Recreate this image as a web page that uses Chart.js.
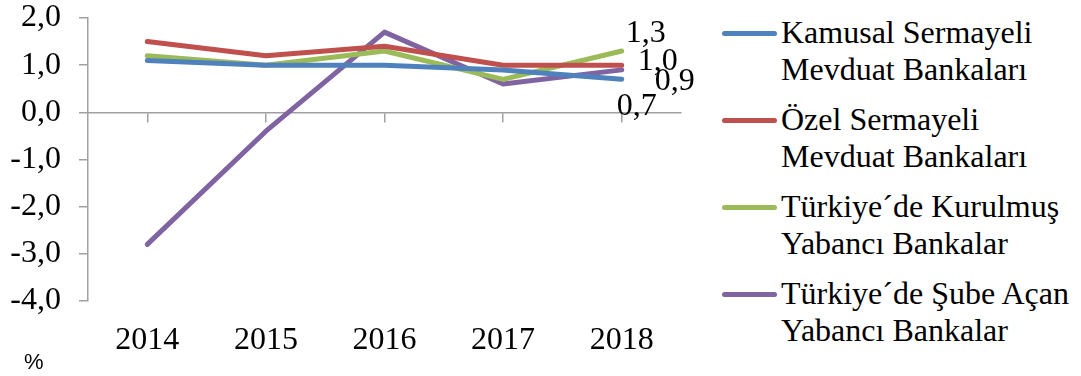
<!DOCTYPE html>
<html>
<head>
<meta charset="utf-8">
<script src="https://cdn.jsdelivr.net/npm/chart.js@4"></script>
<style>
    body { margin: 0; background: #fff; width: 1081px; height: 376px; overflow: hidden; position: relative; font-family: "Liberation Serif", "Times New Roman", serif; }
    #wrap { position: absolute; left: 0; top: 0; width: 720px; height: 376px; }
    #legend { position: absolute; left: 722px; top: 14px; }
    .item { display: flex; align-items: flex-start; margin-bottom: 13px; }
    .mark { width: 55px; height: 5px; border-radius: 3px; margin-top: 17px; margin-right: 4px; flex: none; }
    .txt { font-size: 32px; line-height: 37px; color: #000; white-space: nowrap; }
    #pct { position: absolute; left: 24px; top: 351px; font-family: "Liberation Sans", Arial, sans-serif; font-size: 22px; line-height: 22px; }
</style>
</head>
<body>
<div id="wrap"><canvas id="chart"></canvas></div>
<div id="legend"></div>
<div id="pct">%</div>

<script>
// ✅ DATA
const years = ['2014', '2015', '2016', '2017', '2018'];
const seriesNames = [
    ['Kamusal Sermayeli', 'Mevduat Bankaları'],
    ['Özel Sermayeli', 'Mevduat Bankaları'],
    ['Türkiye´de Kurulmuş', 'Yabancı Bankalar'],
    ['Türkiye´de Şube Açan', 'Yabancı Bankalar']
];
const kamusal = [1.1, 1.0, 1.0, 0.9, 0.7];
const ozel = [1.5, 1.2, 1.4, 1.0, 1.0];
const kurulmus = [1.2, 1.0, 1.3, 0.7, 1.3];
const subeAcan = [-2.8, -0.4, 1.7, 0.6, 0.9];
const yTicks = [-4, -3, -2, -1, 0, 1, 2];

const colors = ['#4F81BD', '#C0504D', '#9BBB59', '#8064A2'];
// where each end label sits relative to its last point (dx, dy)
const labelOffsets = [[-5, 27], [16, -4], [4, -17], [33, 12]];

const fmt = v => v.toFixed(1).replace('.', ',');

// ✅ END LABELS
const endLabels = {
    id: 'endLabels',
    afterDatasetsDraw(chart) {
        const ctx = chart.ctx;
        ctx.save();
        ctx.font = '32px "Liberation Serif"';
        ctx.fillStyle = '#000';
        ctx.textAlign = 'left';
        ctx.textBaseline = 'middle';
        chart.data.datasets.forEach((ds, i) => {
            const meta = chart.getDatasetMeta(i);
            const last = ds.data.length - 1;
            const pt = meta.data[last];
            ctx.fillText(fmt(ds.data[last]), pt.x + labelOffsets[i][0], pt.y + labelOffsets[i][1]);
        });
        ctx.restore();
    }
};

const allSeries = [kamusal, ozel, kurulmus, subeAcan];

new Chart(document.getElementById('chart'), {
    type: 'line',
    data: {
        labels: years,
        datasets: allSeries.map((s, i) => ({
            label: seriesNames[i].join(' '),
            data: s,
            borderColor: colors[i],
            backgroundColor: colors[i],
            borderWidth: 5,
            pointRadius: 0,
            tension: 0,
            borderCapStyle: 'round',
            borderJoinStyle: 'round',
            fill: false
        }))
    },
    options: {
        responsive: true,
        maintainAspectRatio: false,
        animation: false,
        layout: { padding: { left: 0, right: 39, top: 0, bottom: 0 } },
        plugins: { legend: { display: false }, tooltip: { enabled: false } },
        scales: {
            x: {
                position: 'bottom',
                offset: true,
                grid: { display: false },
                border: { display: false },
                ticks: { color: '#000', font: { family: 'Liberation Serif', size: 32 }, padding: 12, maxRotation: 0 },
                afterFit: s => { s.height = 75; }
            },
            zeroAxis: {
                type: 'category',
                axis: 'x',
                labels: years,
                position: { y: 0 },
                offset: true,
                grid: { display: true, drawOnChartArea: false, drawTicks: true, tickLength: 9, color: '#A0A0A0', lineWidth: 1.5 },
                border: { display: true, color: '#A0A0A0', width: 1.5 },
                ticks: { display: false }
            },
            y: {
                min: -4,
                max: 2,
                afterBuildTicks: s => { s.ticks = yTicks.map(v => ({ value: v })); },
                grid: { drawOnChartArea: false, drawTicks: true, tickLength: 9, color: '#A0A0A0', lineWidth: 1.5 },
                border: { display: true, color: '#A0A0A0', width: 1.5 },
                ticks: { color: '#000', font: { family: 'Liberation Serif', size: 32 }, padding: 18, callback: v => fmt(v) },
                afterFit: s => { s.width = 88; s.paddingTop = 18; s.paddingBottom = 0; }
            }
        }
    },
    plugins: [endLabels]
});

// ✅ LEGEND
const legend = document.getElementById('legend');
seriesNames.forEach((lines, i) => {
    legend.innerHTML += `<div class="item"><div class="mark" style="background:${colors[i]}"></div>` +
        `<div class="txt">${lines.join('<br>')}</div></div>`;
});
</script>
</body>
</html>
